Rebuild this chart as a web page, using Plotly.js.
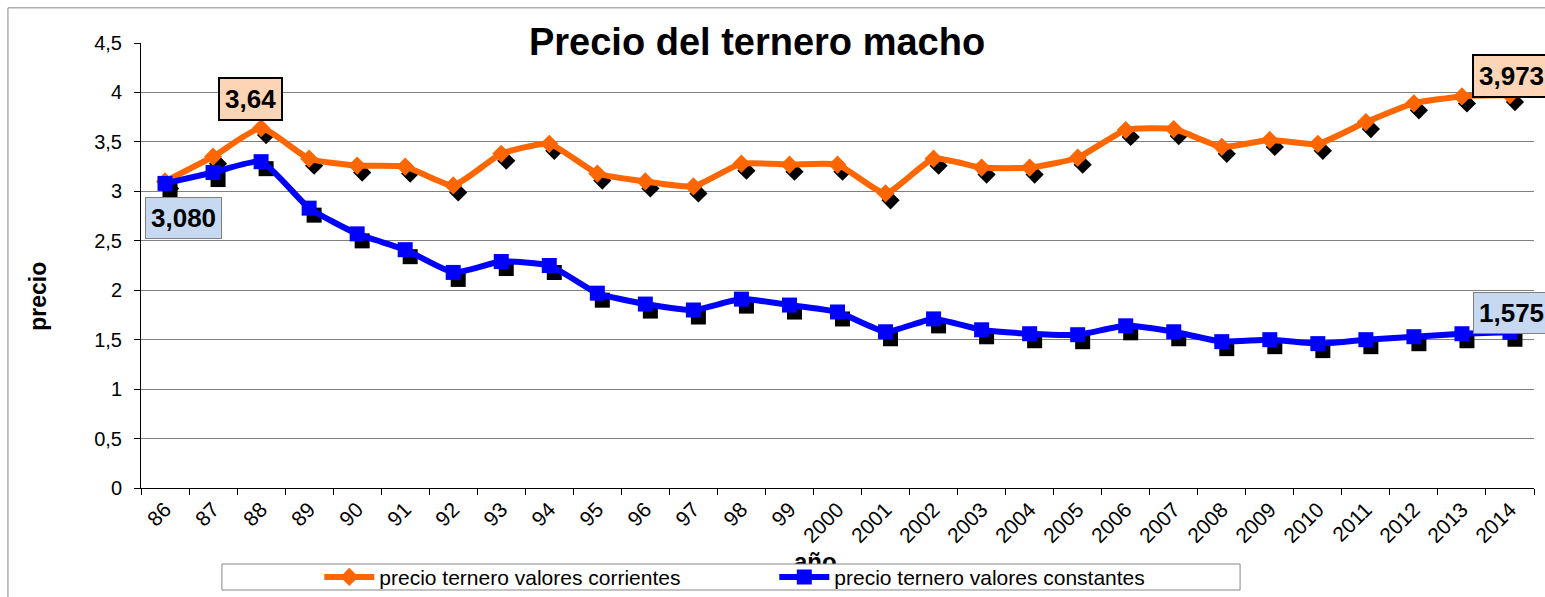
<!DOCTYPE html>
<html>
<head>
<meta charset="utf-8">
<script src="https://cdn.plot.ly/plotly-3.0.1.min.js"></script>
<style>html,body{margin:0;padding:0;background:#fff;}#chart{width:1545px;height:597px;}</style>
</head>
<body>
<div id="chart"></div>
<script>
// ---- data ----
var categories = ['86','87','88','89','90','91','92','93','94','95','96','97','98','99',
  '2000','2001','2002','2003','2004','2005','2006','2007','2008','2009','2010','2011','2012','2013','2014'];
var corrientes = [3.10,3.35,3.64,3.33,3.26,3.25,3.06,3.38,3.48,3.18,3.10,3.05,3.28,3.27,
  3.27,2.98,3.33,3.24,3.24,3.34,3.62,3.63,3.45,3.52,3.48,3.70,3.89,3.96,3.973];
var constantes = [3.080,3.19,3.30,2.83,2.57,2.41,2.18,2.29,2.25,1.97,1.86,1.80,1.91,1.85,
  1.78,1.58,1.71,1.60,1.56,1.55,1.64,1.58,1.48,1.50,1.46,1.50,1.53,1.56,1.575];
var seriesNames = ['precio ternero valores corrientes','precio ternero valores constantes'];
var yTickVals = [0,0.5,1,1.5,2,2.5,3,3.5,4,4.5];

function fmt(v, d){ return v.toFixed(d).replace('.', ','); }

var FONT = 'Liberation Sans, Arial, sans-serif';
var ORANGE = '#FF6600', BLUE = '#0000FF';
var n = categories.length;
var last = n - 1;
var peak = categories.indexOf('88');

// shadow offset (pixels) -> expressed as axis range shifts
var plotW = 1545 - 141 - 11, plotH = 597 - 43 - 109;
var catW = plotW / n, unitH = plotH / 4.5;
var sdx = 5 / catW, sdy = 7 / unitH;

var traces = [
  // shadows
  {x: categories, y: corrientes, xaxis: 'x2', yaxis: 'y2', mode: 'markers', type: 'scatter',
   marker: {symbol: 'diamond', size: 14, color: '#000'}, showlegend: false, hoverinfo: 'skip'},
  {x: categories, y: constantes, xaxis: 'x2', yaxis: 'y2', mode: 'markers', type: 'scatter',
   marker: {symbol: 'square', size: 15, color: '#000'}, showlegend: false, hoverinfo: 'skip'},
  // main series
  {x: categories, y: corrientes, xaxis: 'x3', yaxis: 'y3', mode: 'lines+markers', type: 'scatter',
   name: seriesNames[0], line: {color: ORANGE, width: 6, shape: 'spline', smoothing: 0.5},
   marker: {symbol: 'diamond', size: 14, color: ORANGE}},
  {x: categories, y: constantes, xaxis: 'x3', yaxis: 'y3', mode: 'lines+markers', type: 'scatter',
   name: seriesNames[1], line: {color: BLUE, width: 6, shape: 'spline', smoothing: 0.5},
   marker: {symbol: 'square', size: 15, color: BLUE}}
];

var hidden = {visible: false, showgrid: false, zeroline: false, fixedrange: true};
var labelFont = {family: FONT, size: 26, weight: 'bold', color: '#000'};
var layout = {
  width: 1545, height: 597,
  margin: {l: 141, r: 11, t: 43, b: 109, autoexpand: false},
  paper_bgcolor: '#fff', plot_bgcolor: '#fff',
  separators: ',.',
  font: {family: FONT, color: '#000', size: 19},
  title: {text: 'Precio del ternero macho', x: 0.49, xref: 'container', y: 0.93, yanchor: 'middle',
          font: {family: FONT, size: 38, weight: 'bold', color: '#000'}},
  xaxis: {type: 'category', categoryorder: 'array', categoryarray: categories,
          range: [-0.5, n - 0.5], tickson: 'boundaries', ticks: 'outside', ticklen: 6,
          tickcolor: '#000', showline: true, linecolor: '#000', linewidth: 1,
          showgrid: false, zeroline: false, tickangle: -45,
          tickfont: {family: FONT, size: 21, color: '#000'}},
  yaxis: {range: [0, 4.5], tickvals: yTickVals, ticks: 'outside', ticklen: 6, tickcolor: '#000',
          showline: true, linecolor: '#000', linewidth: 1, showgrid: true, gridcolor: '#808080',
          gridwidth: 1, zeroline: false, ticklabelstandoff: 8,
          tickfont: {family: FONT, size: 20, color: '#000'}},
  xaxis2: Object.assign({type: 'category', categoryorder: 'array', categoryarray: categories,
          overlaying: 'x', range: [-0.5 - sdx, n - 0.5 - sdx]}, hidden),
  yaxis2: Object.assign({overlaying: 'y', range: [sdy, 4.5 + sdy]}, hidden),
  xaxis3: Object.assign({type: 'category', categoryorder: 'array', categoryarray: categories,
          overlaying: 'x', range: [-0.5, n - 0.5]}, hidden),
  yaxis3: Object.assign({overlaying: 'y', range: [0, 4.5]}, hidden),
  showlegend: true,
  legend: {orientation: 'h', x: 0.128, xanchor: 'left', y: -0.1546, yanchor: 'top',
           bgcolor: 'rgba(0,0,0,0)', borderwidth: 0, entrywidth: 390, entrywidthmode: 'pixels',
           font: {family: FONT, size: 21, color: '#000'}, itemwidth: 50, tracegroupgap: 0},
  shapes: [
    {type: 'rect', xref: 'paper', yref: 'paper', x0: -0.0955, x1: 1.2, y0: -0.6, y1: 1.079,
     line: {color: '#868686', width: 1}, fillcolor: 'rgba(0,0,0,0)', layer: 'below'},
    {type: 'rect', xref: 'paper', yref: 'paper', x0: 0.0581, x1: 0.789, y0: -0.2292, y1: -0.1708,
     line: {color: '#868686', width: 1}, fillcolor: '#fff', layer: 'above'}
  ],
  annotations: [
    {text: 'precio', xref: 'paper', yref: 'paper', x: -0.0735, y: 0.431, xanchor: 'center',
     yanchor: 'middle', textangle: -90, showarrow: false,
     font: {family: FONT, size: 23, weight: 'bold', color: '#000'}},
    {text: 'año', xref: 'paper', yref: 'paper', x: 0.484, y: -0.165, yanchor: 'middle',
     showarrow: false, font: {family: FONT, size: 24, weight: 'bold', color: '#000'}},
    {text: fmt(corrientes[peak], 2), xref: 'x', yref: 'y', x: peak, y: corrientes[peak],
     xshift: -11, yshift: 29, showarrow: false, bgcolor: '#FBD5B5', bordercolor: '#000',
     borderwidth: 2, borderpad: 5, font: labelFont},
    {text: fmt(constantes[0], 3), xref: 'x', yref: 'y', x: 0, y: constantes[0],
     xshift: 18, yshift: -35, showarrow: false, bgcolor: '#C6D9F1', bordercolor: '#7F7F7F',
     borderwidth: 1, borderpad: 5, font: labelFont},
    {text: fmt(corrientes[last], 3), xref: 'x', yref: 'y', x: last, y: corrientes[last],
     xshift: 2, yshift: 19, showarrow: false, bgcolor: '#FBD5B5', bordercolor: '#000',
     borderwidth: 2, borderpad: 5, font: labelFont},
    {text: fmt(constantes[last], 3), xref: 'x', yref: 'y', x: last, y: constantes[last],
     xshift: 2, yshift: 19, showarrow: false, bgcolor: '#C6D9F1', bordercolor: '#7F7F7F',
     borderwidth: 1, borderpad: 5, font: labelFont}
  ]
};

Plotly.newPlot('chart', traces, layout, {staticPlot: true, displayModeBar: false}).then(function(gd){
  // legend box and legend sit above the "año" title, as in the original
  var info = gd.querySelector('.infolayer');
  var boxPath = gd.querySelector('.layer-above .shapelayer path');
  if (info && boxPath) info.appendChild(boxPath);
  var leg = gd.querySelector('.infolayer .legend');
  if (info && leg) info.appendChild(leg);
});
</script>
</body>
</html>
